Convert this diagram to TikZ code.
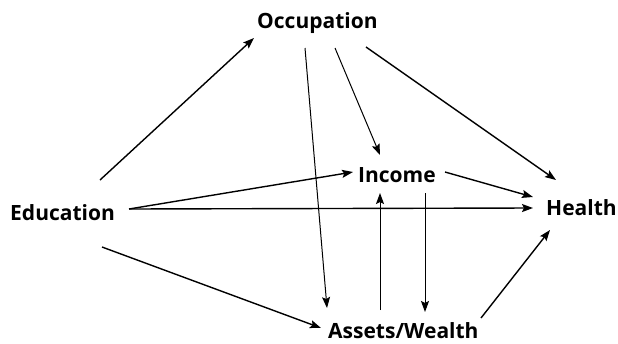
\documentclass[tikz,border=0pt]{standalone}
\usepackage{fontspec}
\setmainfont{Open Sans}
\usetikzlibrary{arrows.meta}
\begin{document}
\begin{tikzpicture}[x=1pt,y=-1pt,
  lbl/.style={anchor=base west,inner sep=0pt,font=\fontsize{21}{24}\selectfont\bfseries},
  arr/.style={line width=1.4pt,-{Stealth[length=11pt,width=8pt,inset=2pt]}},
  thinarr/.style={line width=1pt,-{Stealth[length=11pt,width=8pt,inset=2pt]}}]
\useasboundingbox (0,0) rectangle (618,343);
\node[lbl] (occ) at (257,28.5) {Occupation};
\node[lbl] (edu) at (10,220.5) {Education};
\node[lbl] (inc) at (358,182) {Income};
\node[lbl] (hea) at (546,215) {Health};
\node[lbl] (ast) at (328,338) {Assets/Wealth};
% Education outgoing
\draw[arr] ([shift={(90,-40.5)}]edu.base west) -- ([shift={(-3,9.5)}]occ.base west);
\draw[arr] ([shift={(119,-11.5)}]edu.base west) -- ([shift={(-5,-10)}]inc.base west);
\draw[arr] ([shift={(119,-11.5)}]edu.base west) -- ([shift={(-13,-7)}]hea.base west);
\draw[arr] ([shift={(92,26.5)}]edu.base west) -- ([shift={(-7,-10)}]ast.base west);
% Occupation outgoing
\draw[thinarr] ([shift={(48,19.5)}]occ.base west) -- ([shift={(-1,-30)}]ast.base west);
\draw[thinarr] ([shift={(78,19.5)}]occ.base west) -- ([shift={(22,-27)}]inc.base west);
\draw[arr] ([shift={(109,18.5)}]occ.base west) -- ([shift={(10,-35)}]hea.base west);
% Income / Assets
\draw[arr] ([shift={(87,-10)}]inc.base west) -- ([shift={(-13,-18)}]hea.base west);
\draw[thinarr] ([shift={(52,-28)}]ast.base west) -- ([shift={(22,11)}]inc.base west);
\draw[thinarr] ([shift={(67,11)}]inc.base west) -- ([shift={(97,-26)}]ast.base west);
\draw[arr] ([shift={(153,-20)}]ast.base west) -- ([shift={(4,15)}]hea.base west);
\end{tikzpicture}
\end{document}
